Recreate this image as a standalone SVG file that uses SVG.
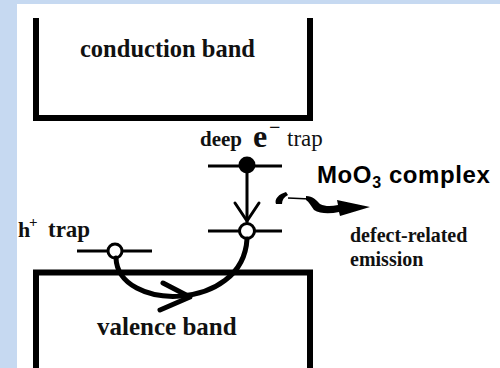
<svg xmlns="http://www.w3.org/2000/svg" width="500" height="368" viewBox="0 0 500 368">
  <style>
    .band { fill: none; stroke: #000; stroke-width: 6; stroke-linecap: square; }
    .lvl { fill: none; stroke: #000; stroke-width: 3; }
    .serif { font-family: "Liberation Serif", "Times New Roman", serif; fill: #111; }
    .b { font-weight: bold; }
    .sans { font-family: "Liberation Sans", Arial, sans-serif; font-weight: bold; fill: #000; }
    .conn { fill: none; stroke: #000; stroke-linecap: round; stroke-linejoin: round; }
  </style>
  <rect x="0" y="0" width="500" height="368" fill="#c6d9f1"/>
  <rect x="17" y="4" width="483" height="364" fill="#ffffff"/>

  <g id="conduction-band">
    <path class="band" d="M36,21 V118 H310 V21"/>
    <text class="serif b" x="80" y="57" font-size="24.5">conduction band</text>
  </g>

  <g id="valence-band">
    <path class="band" d="M36,372 V272.5 H310 V372"/>
    <text class="serif b" x="97" y="335" font-size="25">valence band</text>
  </g>

  <g id="deep-e-trap">
    <line class="lvl" x1="208" y1="166" x2="282" y2="166"/>
    <circle cx="247" cy="165" r="8.5" fill="#000"/>
    <text class="serif b" x="200" y="146" font-size="21">deep</text>
    <text class="serif b" x="253" y="147" font-size="32">e</text>
    <text class="serif b" x="269" y="134" font-size="20">−</text>
    <text class="serif" x="287" y="146" font-size="23">trap</text>
  </g>

  <g id="moo3-level">
    <line class="lvl" x1="208" y1="231" x2="282" y2="231"/>
    <circle cx="247" cy="231" r="7.5" fill="#fff" stroke="#000" stroke-width="3"/>
    <text class="sans" x="317" y="183" font-size="24" letter-spacing="0.6">MoO<tspan font-size="16" dy="5">3</tspan><tspan dy="-5"> complex</tspan></text>
  </g>

  <g id="h-trap">
    <line class="lvl" x1="77" y1="251" x2="152" y2="251"/>
    <circle cx="115" cy="251" r="7" fill="#fff" stroke="#000" stroke-width="3"/>
    <text class="serif b" x="18" y="237" font-size="22">h</text>
    <text class="serif b" x="29" y="227" font-size="15">+</text>
    <text class="serif b" x="48" y="237" font-size="23">trap</text>
  </g>

  <g id="emission">
    <text class="serif b" x="350" y="242" font-size="20">defect-related</text>
    <text class="serif b" x="350" y="266" font-size="20">emission</text>
  </g>

  <g id="connectors">
    <line class="conn" x1="247" y1="172" x2="247" y2="222" stroke-width="3"/>
    <polyline class="conn" points="235,203 247,221 259,203" stroke-width="3"/>
    <path class="conn" d="M116,258 C118,312 243,312 247,239" stroke-width="5"/>
    <polyline class="conn" points="163,283 190,297 160,310" stroke-width="5"/>
    <path fill="#000" d="M276,204 C274,199 279,194 286,192 L288,195 C284,197 282,200 282,204 Z"/>
    <line x1="288" y1="198" x2="310" y2="199" stroke="#000" stroke-width="1.5"/>
    <path fill="#000" d="M306,196 C313,196 316,200 320,204 C326,207 332,206 338,205 L337,200 L370,207 L340,216 L339,212 C330,214 320,214 314,210 C311,206 309,202 306,200 Z"/>
  </g>
</svg>
